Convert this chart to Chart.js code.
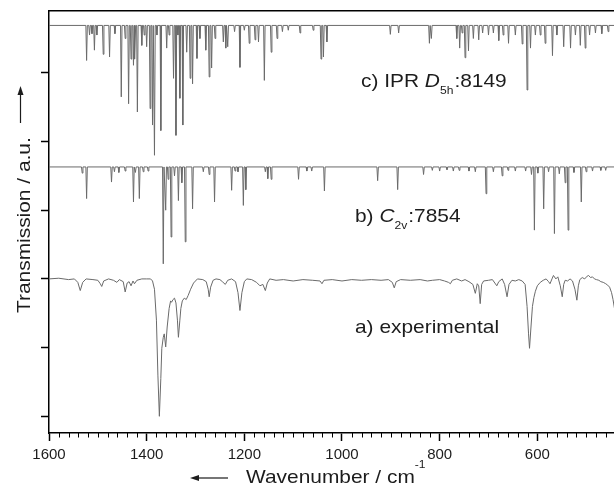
<!DOCTYPE html>
<html>
<head>
<meta charset="utf-8">
<title>IR spectra</title>
<script src="https://cdn.jsdelivr.net/npm/chart.js@4.4.1/dist/chart.umd.min.js"></script>
<style>
  html, body { margin: 0; padding: 0; background: #fff; overflow: hidden; }
  canvas { display: block; }
</style>
</head>
<body>
<canvas id="irChart" width="614" height="486"></canvas>
<script>
// Wavenumber axis (cm-1), drawn right-to-left
const xTicks = [1600, 1400, 1200, 1000, 800, 600];
const yTicks = [0, 1, 2, 3, 4, 5];

// a) experimental trace: wavenumber / transmission
const expWavenumber = [
  1600, 1580, 1560, 1548, 1541, 1536, 1531, 1524, 1510, 1500, 1495, 1492, 1488, 1478, 1468, 1461,
  1456, 1448, 1444, 1440, 1436, 1432, 1428, 1425, 1420, 1410, 1400, 1392, 1388, 1384, 1380, 1377,
  1374, 1371, 1369, 1366, 1364, 1361, 1358, 1354, 1351, 1349, 1346, 1343, 1340, 1337, 1335, 1332,
  1330, 1327, 1323, 1319, 1315, 1310, 1304, 1296, 1285, 1278, 1274, 1272, 1269, 1264, 1258, 1250,
  1245, 1239, 1234, 1226, 1218, 1213, 1209, 1205, 1200, 1195, 1185, 1175, 1168, 1162, 1157, 1153,
  1148, 1135, 1120, 1100, 1080, 1060, 1045, 1041, 1037, 1020, 1000, 980, 960, 940, 920, 905,
  897, 893, 889, 880, 860, 840, 825, 815, 800, 790, 782, 778, 774, 765, 755, 748,
  740, 732, 727, 723, 720, 717, 714, 710, 700, 692, 687, 683, 679, 672, 667, 662,
  658, 652, 645, 638, 631, 625, 621, 618, 616, 613, 610, 607, 604, 600, 594, 588,
  582, 577, 574, 570, 567, 562, 558, 553, 549, 546, 543, 538, 533, 528, 523, 519,
  516, 513, 508, 503, 498, 495, 491, 487, 483, 479, 474, 470, 465, 460, 456, 452,
  448, 445, 442
];
const expSignal = [
  2.00, 2.01, 1.99, 2.00, 1.95, 1.83, 1.95, 2.00, 1.99, 1.98, 1.93, 1.89, 1.97, 2.00, 1.98, 1.95,
  1.99, 1.96, 1.81, 1.94, 1.96, 1.90, 1.97, 1.93, 1.98, 2.00, 2.00, 2.00, 1.97, 1.85, 1.40, 0.60,
  0.00, 0.55, 0.99, 1.15, 1.20, 1.01, 1.30, 1.57, 1.68, 1.66, 1.70, 1.72, 1.65, 1.40, 1.15, 1.40,
  1.57, 1.68, 1.72, 1.70, 1.76, 1.85, 1.94, 2.00, 1.99, 1.96, 1.85, 1.74, 1.88, 1.98, 2.00, 1.99,
  1.96, 1.92, 1.98, 2.00, 1.96, 1.80, 1.54, 1.80, 1.96, 2.00, 1.99, 1.95, 1.90, 1.92, 1.83, 1.94,
  2.00, 1.98, 1.99, 1.97, 1.99, 1.98, 1.97, 1.93, 1.98, 1.99, 1.97, 1.99, 1.98, 1.99, 1.98, 1.99,
  1.95, 1.87, 1.96, 1.99, 1.98, 1.99, 1.97, 1.98, 1.99, 1.97, 1.95, 1.93, 1.98, 2.00, 1.97, 1.99,
  1.96, 1.92, 1.79, 1.93, 1.90, 1.64, 1.92, 1.97, 1.98, 1.99, 1.94, 1.90, 1.96, 2.00, 1.92, 1.74,
  1.92, 1.98, 1.97, 1.99, 1.97, 1.92, 1.60, 1.20, 0.99, 1.30, 1.60, 1.73, 1.82, 1.90, 1.95, 1.98,
  2.00, 1.96, 1.93, 2.00, 2.05, 2.00, 2.03, 1.90, 1.74, 1.92, 1.98, 1.97, 2.00, 1.97, 1.85, 1.69,
  1.90, 1.99, 2.02, 2.00, 2.04, 2.05, 2.02, 2.03, 2.00, 1.99, 1.98, 1.96, 1.95, 1.93, 1.91, 1.88,
  1.80, 1.70, 1.57
];

// b) C2v:7854 computed lines: position and transmission minimum
const c2vBaseline = 3.63;
const c2vPeakPos = [
  1532, 1523, 1472, 1466, 1457, 1444, 1427, 1423, 1415, 1407, 1397, 1366, 1361, 1356, 1350, 1343,
  1335, 1328, 1321, 1306, 1284, 1272, 1261, 1226, 1219, 1213, 1202, 1197, 1157, 1152, 1145, 1089,
  1072, 1062, 1036, 927, 886, 833, 815, 800, 785, 772, 760, 740, 727, 705, 690, 672,
  660, 645, 624, 612, 606, 599, 587, 577, 565, 555, 543, 537, 525, 510, 500, 487,
  470, 460
];
const c2vPeakMin = [
  3.54, 3.17, 3.41, 3.56, 3.55, 3.57, 3.12, 3.55, 3.17, 3.56, 3.57, 2.22, 3.00, 3.45, 2.61, 3.50,
  3.14, 3.40, 2.54, 3.02, 3.56, 3.52, 3.12, 3.29, 3.57, 3.56, 3.07, 3.30, 3.56, 3.46, 3.45, 3.45,
  3.57, 3.57, 3.28, 3.43, 3.30, 3.52, 3.58, 3.57, 3.59, 3.57, 3.58, 3.57, 3.56, 3.24, 3.56, 3.50,
  3.58, 3.57, 3.57, 3.52, 2.71, 3.54, 3.02, 3.56, 2.66, 3.53, 3.40, 2.71, 3.55, 3.12, 3.56, 3.57,
  3.58, 3.58
];

// c) IPR D5h:8149 computed lines
const d5hBaseline = 5.69;
const d5hPeakPos = [
  1523, 1517, 1512, 1507, 1502, 1489, 1476, 1465, 1452, 1444, 1437, 1432, 1427, 1424, 1419, 1410,
  1405, 1400, 1393, 1388, 1384, 1379, 1371, 1359, 1354, 1345, 1340, 1336, 1332, 1326, 1318, 1311,
  1306, 1297, 1291, 1279, 1272, 1267, 1260, 1243, 1238, 1234, 1220, 1209, 1200, 1190, 1178, 1171,
  1159, 1145, 1133, 1122, 1110, 1086, 1059, 1043, 1038, 1031, 901, 884, 821, 817,
  765, 759, 754, 748, 741, 731, 720, 712, 700, 690, 679, 670, 659, 645, 631, 621,
  614, 604, 594, 584, 569, 560, 546, 532, 522, 512, 502, 493, 481, 468, 455
];
const d5hPeakMin = [
  5.18, 5.55, 5.57, 5.33, 5.55, 5.27, 5.23, 5.57, 4.65, 5.50, 4.55, 5.20, 5.11, 5.20, 4.43, 5.40,
  5.55, 5.38, 4.48, 4.24, 3.80, 5.55, 4.16, 5.36, 5.55, 4.92, 4.09, 5.55, 4.63, 4.24, 5.30, 4.92,
  4.84, 5.21, 5.50, 5.33, 4.94, 5.07, 5.50, 5.45, 5.36, 5.38, 5.60, 5.08, 5.62, 5.43, 5.48, 5.45,
  4.89, 5.30, 5.50, 5.60, 5.62, 5.58, 5.62, 5.20, 5.23, 5.45, 5.56, 5.58, 5.43, 5.50,
  5.50, 5.36, 5.58, 5.22, 5.32, 5.50, 5.48, 5.58, 5.55, 5.58, 5.47, 5.55, 5.43, 5.55, 5.42, 4.75,
  5.36, 5.55, 5.55, 5.43, 5.25, 5.55, 5.38, 5.36, 5.55, 5.40, 5.36, 5.55, 5.58, 5.57, 5.60
];

const X_MIN = 443, X_MAX = 1600;
const LINE_COLOR = '#6a6a6a';
const TEXT_COLOR = '#1c1c1c';
const FONT = '"Liberation Sans", Arial, sans-serif';
const STRETCH = 1.1;

function pairs(xs, ys) {
  return xs.map((x, i) => ({ x, y: ys[i] }));
}

// stick spectrum: each line dips from the baseline to its minimum
function sticks(pos, mins, base) {
  const pts = [{ x: X_MAX, y: base }];
  pos.forEach((p, i) => {
    pts.push({ x: p + 1.5, y: base }, { x: p, y: mins[i] }, { x: p - 1.5, y: base });
  });
  pts.push({ x: X_MIN, y: base });
  return pts;
}

function txt(ctx, s, x, y, size, opts = {}) {
  ctx.save();
  ctx.font = (opts.italic ? 'italic ' : '') + size + 'px ' + FONT;
  ctx.fillStyle = TEXT_COLOR;
  ctx.textBaseline = 'alphabetic';
  ctx.textAlign = 'left';
  ctx.translate(x, y);
  if (opts.rotate) ctx.rotate(opts.rotate);
  ctx.scale(STRETCH, 1);
  ctx.fillText(s, 0, 0);
  const w = ctx.measureText(s).width * STRETCH;
  ctx.restore();
  return x + w;
}

function arrow(ctx, x1, y1, x2, y2) {
  // line from (x1,y1) to tip (x2,y2)
  const a = Math.atan2(y2 - y1, x2 - x1);
  ctx.save();
  ctx.strokeStyle = TEXT_COLOR;
  ctx.fillStyle = TEXT_COLOR;
  ctx.lineWidth = 1.2;
  ctx.beginPath();
  ctx.moveTo(x1, y1);
  ctx.lineTo(x2 - 6 * Math.cos(a), y2 - 6 * Math.sin(a));
  ctx.stroke();
  ctx.translate(x2, y2);
  ctx.rotate(a);
  ctx.beginPath();
  ctx.moveTo(0, 0);
  ctx.lineTo(-9, -3);
  ctx.lineTo(-9, 3);
  ctx.closePath();
  ctx.fill();
  ctx.restore();
}

const decorations = {
  id: 'decorations',
  afterDraw(chart) {
    const { ctx, chartArea } = chart;
    const xs = chart.scales.x;

    // minor ticks every 20 cm-1
    ctx.save();
    ctx.strokeStyle = '#000';
    ctx.lineWidth = 1;
    for (let v = 460; v < X_MAX; v += 20) {
      if (v % 200 === 0) continue;
      const px = Math.round(xs.getPixelForValue(v)) + 0.5;
      ctx.beginPath();
      ctx.moveTo(px, chartArea.bottom);
      ctx.lineTo(px, chartArea.bottom + 4.5);
      ctx.stroke();
    }
    ctx.restore();

    // trace labels
    let x = txt(ctx, 'c) IPR ', 361, 87, 19);
    x = txt(ctx, 'D', x, 87, 19, { italic: true });
    x = txt(ctx, '5h', x, 94, 11);
    txt(ctx, ':8149', x + 1, 87, 19);

    x = txt(ctx, 'b) ', 355, 222, 19);
    x = txt(ctx, 'C', x, 222, 19, { italic: true });
    x = txt(ctx, '2v', x, 229, 11);
    txt(ctx, ':7854', x + 1, 222, 19);

    txt(ctx, 'a) experimental', 355, 333, 19);

    // axis titles
    x = txt(ctx, 'Wavenumber / cm', 246, 483, 19);
    txt(ctx, '-1', x, 468, 11);
    arrow(ctx, 228, 478, 190, 478);

    txt(ctx, 'Transmission / a.u.', 29.5, 313, 19, { rotate: -Math.PI / 2 });
    arrow(ctx, 20.5, 123, 20.5, 86);
  }
};

const lineStyle = {
  borderColor: LINE_COLOR,
  borderWidth: 1,
  pointRadius: 0,
  tension: 0,
  fill: false
};

new Chart(document.getElementById('irChart'), {
  type: 'line',
  data: {
    datasets: [
      { label: 'a) experimental', data: pairs(expWavenumber, expSignal), ...lineStyle },
      { label: 'b) C2v:7854', data: sticks(c2vPeakPos, c2vPeakMin, c2vBaseline), ...lineStyle },
      { label: 'c) IPR D5h:8149', data: sticks(d5hPeakPos, d5hPeakMin, d5hBaseline), ...lineStyle }
    ]
  },
  options: {
    responsive: false,
    devicePixelRatio: 1,
    animation: false,
    layout: { padding: { left: 41, top: 11, right: 0, bottom: 17 } },
    plugins: { legend: { display: false }, tooltip: { enabled: false } },
    scales: {
      x: {
        type: 'linear',
        position: 'bottom',
        reverse: true,
        min: X_MIN,
        max: X_MAX,
        afterBuildTicks: axis => { axis.ticks = xTicks.map(v => ({ value: v })); },
        ticks: {
          autoSkip: false,
          maxRotation: 0,
          padding: 5,
          color: TEXT_COLOR,
          font: { family: FONT, size: 15 },
          callback: v => String(v)
        },
        grid: {
          drawOnChartArea: false,
          drawTicks: true,
          tickLength: 8,
          tickColor: '#000',
          tickWidth: 1.5
        },
        border: { display: true, color: '#000', width: 1.5 }
      },
      xTop: {
        type: 'linear',
        position: 'top',
        reverse: true,
        min: X_MIN,
        max: X_MAX,
        ticks: { display: false },
        grid: { drawOnChartArea: false, drawTicks: false },
        border: { display: true, color: '#000', width: 1.5 }
      },
      y: {
        type: 'linear',
        min: -0.243,
        max: 5.9,
        afterBuildTicks: axis => { axis.ticks = yTicks.map(v => ({ value: v })); },
        ticks: { display: false },
        grid: {
          drawOnChartArea: false,
          drawTicks: true,
          tickLength: 8,
          tickColor: '#000',
          tickWidth: 1.5
        },
        border: { display: true, color: '#000', width: 1.5 }
      }
    }
  },
  plugins: [decorations]
});
</script>
</body>
</html>
